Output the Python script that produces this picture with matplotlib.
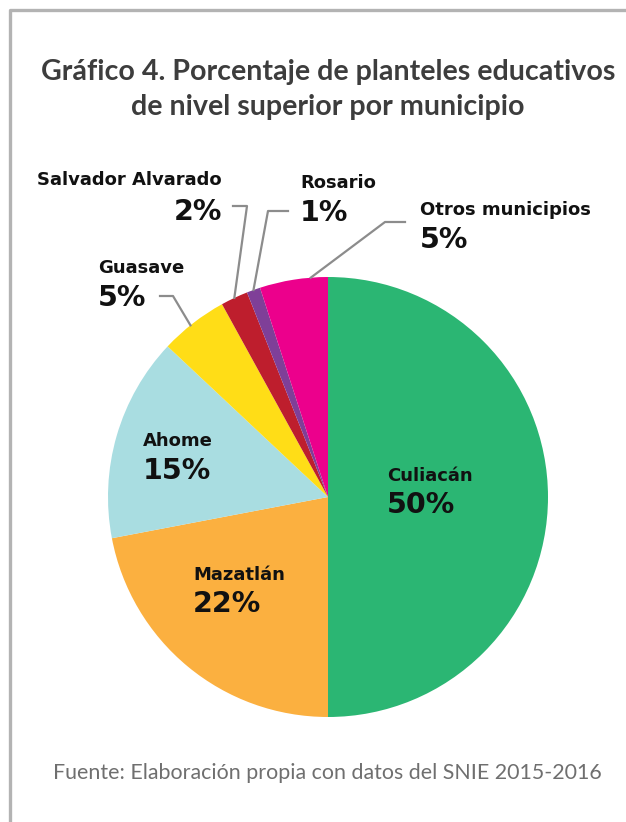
import numpy as np
import matplotlib.pyplot as plt
from matplotlib.lines import Line2D

# data
municipios = ["Culiacán", "Mazatlán", "Ahome", "Guasave",
              "Salvador Alvarado", "Rosario", "Otros municipios"]
porcentajes = [50, 22, 15, 5, 2, 1, 5]
colores = ["#2BB673", "#FBB040", "#A9DDE1", "#FFDD17",
           "#BE1E2D", "#7F3F98", "#EC008C"]

W, H = 626, 822
fig = plt.figure(figsize=(W / 100, H / 100), dpi=100)
ax = fig.add_axes([0, 0, 1, 1])
ax.set_xlim(0, W)
ax.set_ylim(0, H)
ax.set_aspect("equal")
ax.axis("off")


def py(y):
    # pixel row (from top) -> data y
    return H - y


cx, cy, r = 328, 497, 220
wedges, _ = ax.pie(porcentajes, colors=colores, startangle=90, counterclock=False,
                   center=(cx, py(cy)), radius=r, wedgeprops=dict(linewidth=0))
ax.set_xlim(0, W)
ax.set_ylim(0, H)

# frame
ax.add_line(Line2D([10, 10, W], [0, py(9.5), py(9.5)], color="#b3b3b3", lw=2.4))

# title
ax.text(328, py(72), "Gráfico 4. Porcentaje de planteles educativos", ha="center",
        va="center", fontsize=20.6, fontweight="bold", color="#3d3d3d",
        family=["Lato", "DejaVu Sans"])
ax.text(328, py(107), "de nivel superior por municipio", ha="center",
        va="center", fontsize=20.6, fontweight="bold", color="#3d3d3d",
        family=["Lato", "DejaVu Sans"])

# labels inside / outside the pie: (x, name y, pct y, align)
etiquetas = {
    "Culiacán": (387, 476, 505, "left"),
    "Mazatlán": (193, 575, 604, "left"),
    "Ahome": (143, 441, 471, "left"),
    "Guasave": (98, 268, 298, "left"),
    "Salvador Alvarado": (222, 180, 212, "right"),
    "Rosario": (300, 183, 213, "left"),
    "Otros municipios": (420, 210, 240, "left"),
}
for nombre, pct in zip(municipios, porcentajes):
    x, yn, yp, al = etiquetas[nombre]
    ax.text(x, py(yn), nombre, ha=al, va="center", fontsize=13,
            fontweight="bold", color="#111111")
    ax.text(x, py(yp), f"{pct}%", ha=al, va="center", fontsize=20.5,
            fontweight="bold", color="#111111")

# leader lines: fraction inside wedge, elbow, end
lideres = {
    "Guasave": (0.55, (173, 296), (160, 296)),
    "Salvador Alvarado": (0.5, (247, 206), (233, 206)),
    "Rosario": (0.5, (268, 211), (288, 211)),
    "Otros municipios": (0.25, (385, 222), (405, 222)),
}
for w, nombre in zip(wedges, municipios):
    if nombre not in lideres:
        continue
    frac, codo, fin = lideres[nombre]
    ang = np.deg2rad(w.theta1 + frac * (w.theta2 - w.theta1))
    x0 = cx + r * np.cos(ang)
    y0 = py(cy) + r * np.sin(ang)
    ax.add_line(Line2D([x0, codo[0], fin[0]], [y0, py(codo[1]), py(fin[1])],
                       color="#8c8c8c", lw=1.6))

# source
ax.text(327, py(773), "Fuente: Elaboración propia con datos del SNIE 2015-2016",
        ha="center", va="center", fontsize=15.4, color="#6f6f6f",
        family=["Lato", "DejaVu Sans"])

fig.savefig("out.png", dpi=100)
